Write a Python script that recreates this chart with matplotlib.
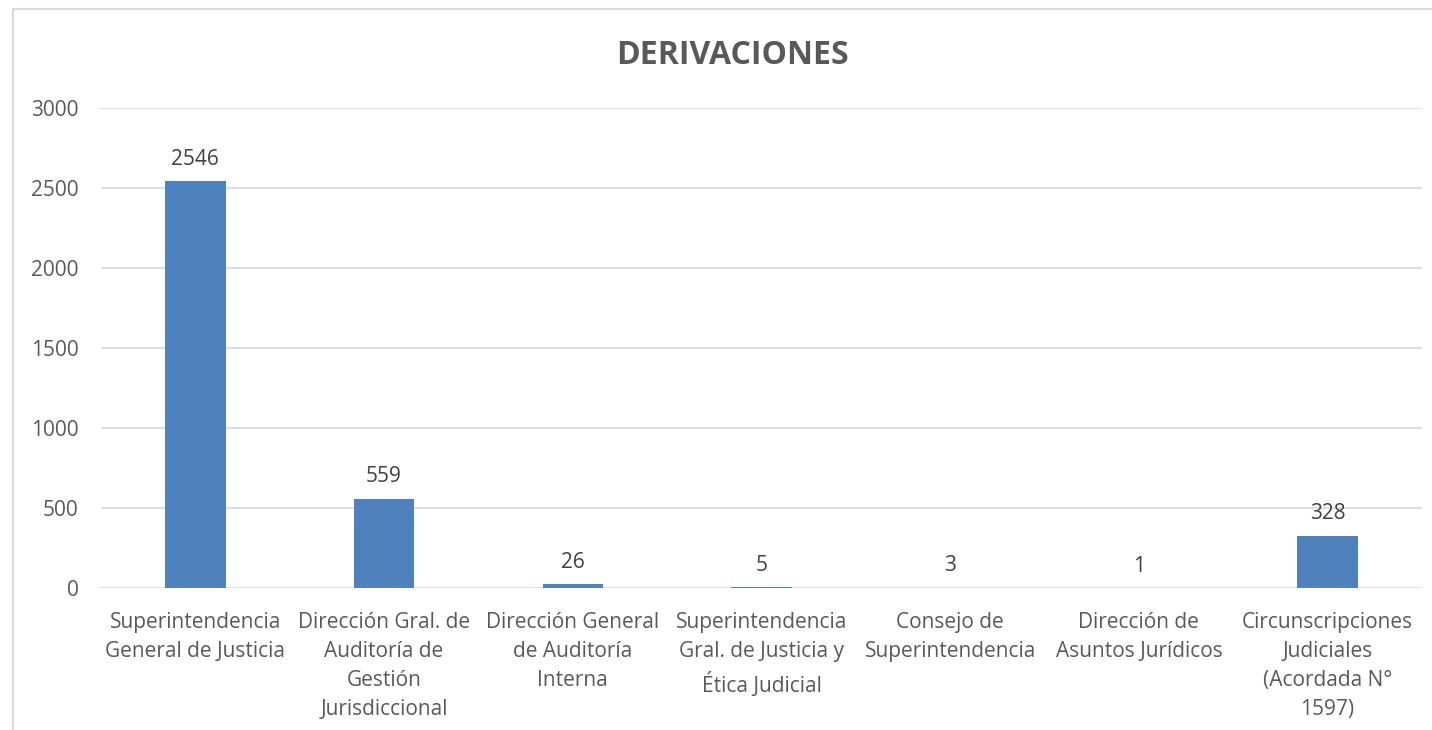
import matplotlib.pyplot as plt
from matplotlib.patches import Rectangle

categorias = [
    'Superintendencia\nGeneral de Justicia',
    'Dirección Gral. de\nAuditoría de\nGestión\nJurisdiccional',
    'Dirección General\nde Auditoría\nInterna',
    'Superintendencia\nGral. de Justicia y\nÉtica Judicial',
    'Consejo de\nSuperintendencia',
    'Dirección de\nAsuntos Jurídicos',
    'Circunscripciones\nJudiciales\n(Acordada N°\n1597)',
]
valores = [2546, 559, 26, 5, 3, 1, 328]
yticks = [0, 500, 1000, 1500, 2000, 2500, 3000]

texto = '#595959'
plt.rcParams['font.family'] = ['Open Sans', 'DejaVu Sans']

fig = plt.figure(figsize=(14.32, 7.30), dpi=100)
ax = fig.add_axes([0.0705, 0.1945, 0.9225, 0.6575])

x = list(range(len(valores)))
ax.bar(x, valores, width=0.32, color='#4F81BD', zorder=3)

for xi, v in zip(x, valores):
    ax.annotate(str(v), (xi, v), xytext=(0, 8), textcoords='offset points',
                ha='center', va='bottom', fontsize=15, color='#404040')

ax.set_xlim(-0.5, len(valores) - 0.5)
ax.set_ylim(0, 3000)
ax.set_yticks(yticks)
ax.set_xticks(x)
ax.set_xticklabels(categorias, fontsize=15, color=texto, linespacing=1.5)
ax.tick_params(axis='y', labelsize=15, labelcolor=texto, length=0, pad=16)
ax.tick_params(axis='x', length=0, pad=17)
ax.grid(axis='y', color='#D9D9D9', linewidth=1.2, zorder=0)
for s in ax.spines.values():
    s.set_visible(False)

fig.text(0.5115, 0.924, 'DERIVACIONES', ha='center', va='center',
         fontsize=23, fontweight='bold', color=texto)

# borde del area del grafico
fig.patches.append(Rectangle((13 / 1432, -0.05), 1.2, 1 - 9 / 730 + 0.05,
                             transform=fig.transFigure, fill=False,
                             edgecolor='#D9D9D9', linewidth=1.5))

fig.savefig('out.png', dpi=100)
